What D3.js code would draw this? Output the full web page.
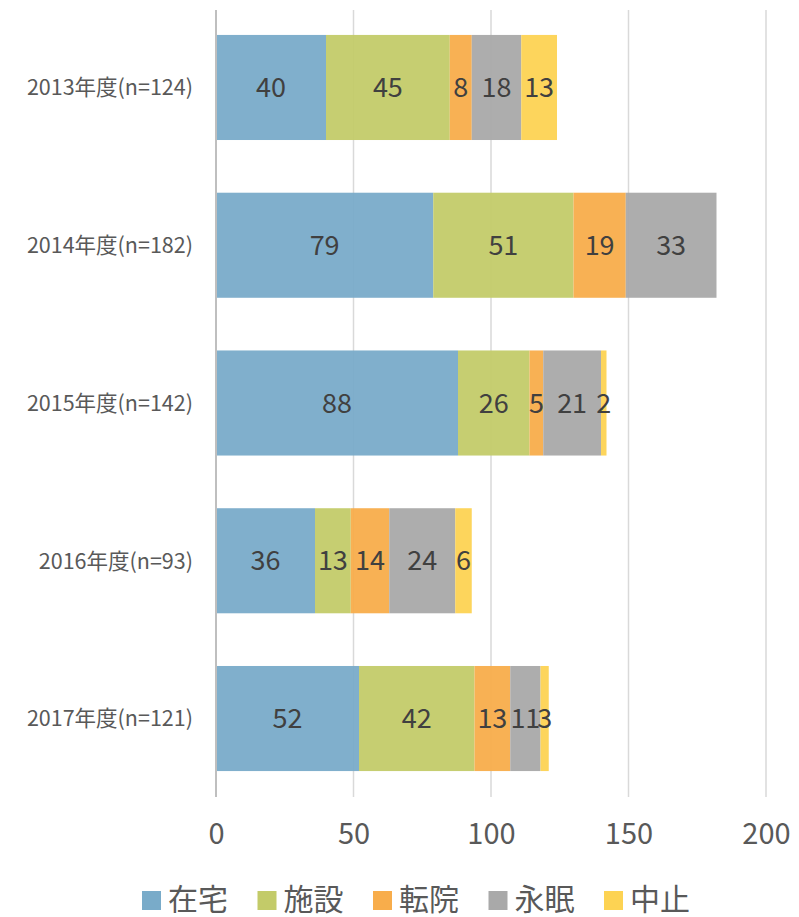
<!DOCTYPE html>
<html>
<head>
<meta charset="utf-8">
<script src="https://cdn.jsdelivr.net/npm/d3@7"></script>
<style>
  body { margin: 0; background: #fff; }
  text { font-family: "Noto Sans CJK JP", "Noto Sans", sans-serif; }
</style>
</head>
<body>
<div id="chart"></div>
<script>
'use strict';

// categories and series
var years = ["2013年度(n=124)", "2014年度(n=182)", "2015年度(n=142)", "2016年度(n=93)", "2017年度(n=121)"];
var seriesNames = ["在宅", "施設", "転院", "永眠", "中止"];
var seriesColors = ["#79abc9", "#c3cb69", "#f8ad4b", "#a9a9a9", "#fdd353"];

var zaitaku = [40, 79, 88, 36, 52];
var shisetsu = [45, 51, 26, 13, 42];
var tenin = [8, 19, 5, 14, 13];
var eimin = [18, 33, 21, 24, 11];
var chushi = [13, 0, 2, 6, 3];

var xTicks = [0, 50, 100, 150, 200];

var width = 799, height = 917;
var plotLeft = 216, plotRight = 766, plotTop = 8.6, plotBottom = 797.4;

var svg = d3.select("#chart").append("svg")
  .attr("width", width)
  .attr("height", height);

var x = d3.scaleLinear().domain([0, 200]).range([plotLeft, plotRight]);
var y = d3.scaleBand().domain(years).range([plotTop, plotBottom])
  .paddingInner(0.334).paddingOuter(0.167);

// table for the stack
var rows = years.map(function (yr, i) {
  return { year: yr, "在宅": zaitaku[i], "施設": shisetsu[i], "転院": tenin[i], "永眠": eimin[i], "中止": chushi[i] };
});
var stacked = d3.stack().keys(seriesNames)(rows);

// gridlines
svg.append("g").selectAll("line")
  .data(xTicks.slice(1))
  .enter().append("line")
  .attr("x1", function (d) { return x(d); })
  .attr("x2", function (d) { return x(d); })
  .attr("y1", 10)
  .attr("y2", 797)
  .attr("stroke", "#d9d9d9")
  .attr("stroke-width", 1.5);

// bars
var layer = svg.append("g").selectAll("g")
  .data(stacked)
  .enter().append("g")
  .attr("fill", function (d, i) { return seriesColors[i]; });

layer.selectAll("rect")
  .data(function (d) { return d; })
  .enter().append("rect")
  .attr("x", function (d) { return x(d[0]); })
  .attr("y", function (d) { return y(d.data.year); })
  .attr("width", function (d) { return x(d[1]) - x(d[0]); })
  .attr("height", y.bandwidth())
  .attr("fill-opacity", 0.95);

// value labels
layer.selectAll("text")
  .data(function (d) { return d.filter(function (p) { return p[1] - p[0] > 0; }); })
  .enter().append("text")
  .attr("x", function (d) { return (x(d[0]) + x(d[1])) / 2; })
  .attr("y", function (d) { return y(d.data.year) + y.bandwidth() / 2; })
  .attr("dy", "0.36em")
  .attr("text-anchor", "middle")
  .attr("fill", "#404040")
  .attr("font-size", 27)
  .text(function (d) { return d[1] - d[0]; });

// vertical axis line
svg.append("line")
  .attr("x1", plotLeft).attr("x2", plotLeft)
  .attr("y1", 10).attr("y2", 797)
  .attr("stroke", "#bfbfbf")
  .attr("stroke-width", 2);

// category labels
svg.append("g").selectAll("text")
  .data(years)
  .enter().append("text")
  .attr("x", 193)
  .attr("y", function (d) { return y(d) + y.bandwidth() / 2; })
  .attr("dy", "0.36em")
  .attr("text-anchor", "end")
  .attr("fill", "#595959")
  .attr("font-size", 21.5)
  .text(function (d) { return d; });

// x tick labels
var xAxis = d3.axisBottom(x).tickValues(xTicks).tickSize(0).tickPadding(0);
var gx = svg.append("g")
  .attr("transform", "translate(0,827)")
  .call(xAxis);
gx.select(".domain").remove();
gx.selectAll("text")
  .attr("font-family", "Noto Sans CJK JP, Noto Sans, sans-serif")
  .attr("font-size", 29)
  .attr("fill", "#595959")
  .attr("dy", "0.6em");

// legend
var legendStart = 142, legendStep = 115.5;
var legend = svg.append("g").selectAll("g")
  .data(seriesNames)
  .enter().append("g")
  .attr("transform", function (d, i) { return "translate(" + (legendStart + i * legendStep) + ",0)"; });

legend.append("rect")
  .attr("x", 0)
  .attr("y", 891)
  .attr("width", 19)
  .attr("height", 19)
  .attr("fill", function (d, i) { return seriesColors[i]; });

legend.append("text")
  .attr("x", 26)
  .attr("y", 899)
  .attr("dy", "0.36em")
  .attr("fill", "#595959")
  .attr("font-size", 30)
  .text(function (d) { return d; });
</script>
</body>
</html>
